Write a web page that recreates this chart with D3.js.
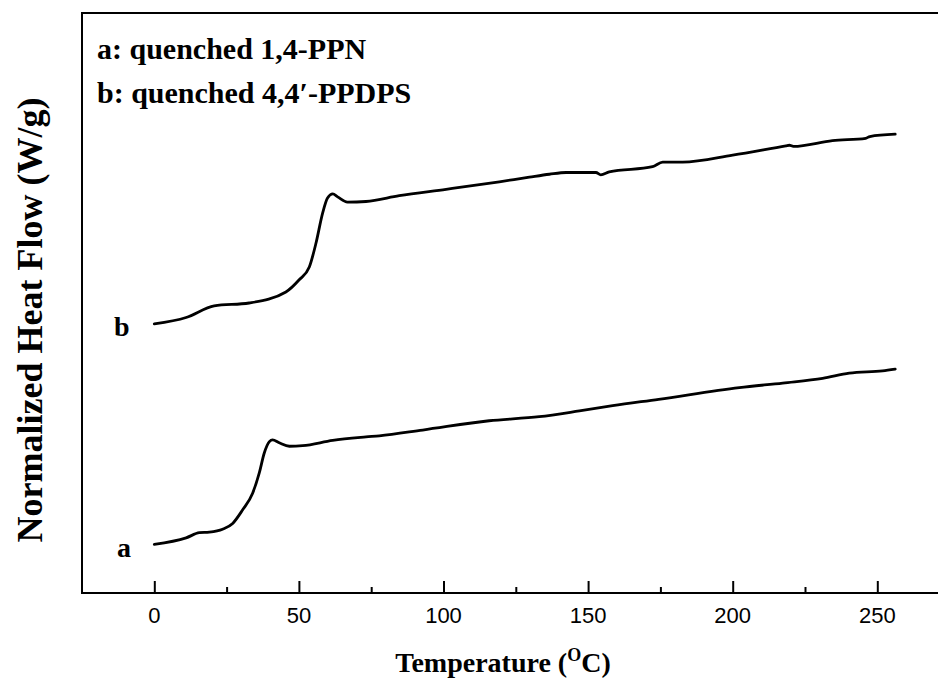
<!DOCTYPE html>
<html>
<head>
<meta charset="utf-8">
<script src="https://cdn.jsdelivr.net/npm/d3@7.9.0/dist/d3.min.js"></script>
<style>
  body { margin: 0; background: #fff; }
  svg { display: block; }
</style>
</head>
<body>
<svg id="chart" width="938" height="686"></svg>
<script>
// DSC traces (temperature in degC, heat flow arbitrary units)
const tempA = [0, 11, 15.6, 19, 23.6, 27.1, 30.5, 34, 36.3, 38, 39.8, 40.9, 43.2, 46.7, 51.3, 61.7, 73.2, 77.8, 92.8, 115.8, 133.1, 147, 158.5, 174.4, 202.3, 217.3, 231.1, 240.3, 251.8, 256.2];
const flowA = [0.84, 0.95, 1.04, 1.05, 1.10, 1.20, 1.43, 1.72, 2.07, 2.41, 2.61, 2.64, 2.59, 2.53, 2.54, 2.63, 2.69, 2.71, 2.81, 2.97, 3.04, 3.14, 3.23, 3.34, 3.54, 3.62, 3.70, 3.79, 3.83, 3.86];

const tempB = [0, 11, 20.7, 32.8, 45.5, 50.1, 53.6, 55.9, 58.2, 59.9, 61.7, 63.4, 66.8, 73.2, 84.7, 100.9, 119.3, 129.7, 136.6, 142.4, 152.7, 154.4, 157.3, 172.3, 175.8, 182.7, 200, 218.4, 219.6, 221, 234.5, 246, 247.4, 256.2];
const flowB = [4.64, 4.75, 4.95, 5.00, 5.19, 5.40, 5.62, 6.03, 6.55, 6.81, 6.88, 6.83, 6.74, 6.75, 6.85, 6.96, 7.09, 7.17, 7.22, 7.25, 7.25, 7.21, 7.26, 7.35, 7.43, 7.43, 7.55, 7.71, 7.72, 7.70, 7.80, 7.84, 7.87, 7.91];

const majorTicks = [0, 50, 100, 150, 200, 250];
const minorTicks = [25, 75, 125, 175, 225];
const legendLines = ["a: quenched 1,4-PPN", "b: quenched 4,4\u2032-PPDPS"];

const svg = d3.select('#chart');
const plotLeft = 82, plotTop = 13, plotBottom = 593;

const x = d3.scaleLinear().domain([-25, 275]).range([plotLeft, plotLeft + 300 * 2.892]);
const y = d3.scaleLinear().domain([0, 10]).range([plotBottom, plotTop]);

// frame (right side runs past the picture edge)
svg.append('rect')
  .attr('x', plotLeft).attr('y', plotTop)
  .attr('width', x(275) - plotLeft).attr('height', plotBottom - plotTop)
  .attr('fill', 'none').attr('stroke', '#000').attr('stroke-width', 2);

// ticks point inward
const xAxis = d3.axisTop(x).tickValues(majorTicks).tickSize(12).tickFormat('');
svg.append('g').attr('transform', `translate(0,${plotBottom})`).call(xAxis)
  .call(g => g.select('.domain').remove())
  .selectAll('line').attr('stroke-width', 2);
const xMinor = d3.axisTop(x).tickValues(minorTicks).tickSize(6).tickFormat('');
svg.append('g').attr('transform', `translate(0,${plotBottom})`).call(xMinor)
  .call(g => g.select('.domain').remove())
  .selectAll('line').attr('stroke-width', 2);

svg.append('g').selectAll('text').data(majorTicks).join('text')
  .attr('x', d => x(d)).attr('y', 623)
  .attr('text-anchor', 'middle')
  .attr('font-family', 'Liberation Sans, Arial, sans-serif')
  .attr('font-size', 22)
  .text(d => d);

const line = d3.line().x(d => x(d[0])).y(d => y(d[1])).curve(d3.curveMonotoneX);
[[tempA, flowA], [tempB, flowB]].forEach(([t, f]) => {
  svg.append('path')
    .datum(t.map((v, i) => [v, f[i]]))
    .attr('d', line)
    .attr('fill', 'none').attr('stroke', '#000')
    .attr('stroke-width', 2.8).attr('stroke-linejoin', 'round').attr('stroke-linecap', 'round');
});

const serif = 'Liberation Serif, Times New Roman, serif';

svg.append('g').selectAll('text').data(legendLines).join('text')
  .attr('x', 97).attr('y', (d, i) => 59 + i * 44)
  .attr('font-family', serif).attr('font-weight', 'bold').attr('font-size', 30)
  .text(d => d);

svg.append('text').attr('x', 114).attr('y', y(flowB[0]) + 12)
  .attr('font-family', serif).attr('font-weight', 'bold').attr('font-size', 28).text('b');
svg.append('text').attr('x', 117).attr('y', y(flowA[0]) + 13)
  .attr('font-family', serif).attr('font-weight', 'bold').attr('font-size', 28).text('a');

const xt = svg.append('text').attr('x', 503).attr('y', 672)
  .attr('text-anchor', 'middle')
  .attr('font-family', serif).attr('font-weight', 'bold').attr('font-size', 28);
xt.append('tspan').text('Temperature (');
xt.append('tspan').attr('font-size', 18).attr('dy', -11).text('O');
xt.append('tspan').attr('dy', 11).text('C)');

svg.append('text')
  .attr('transform', 'translate(42,320) rotate(-90)')
  .attr('text-anchor', 'middle')
  .attr('font-family', serif).attr('font-weight', 'bold').attr('font-size', 36)
  .text('Normalized Heat Flow (W/g)');
</script>
</body>
</html>
